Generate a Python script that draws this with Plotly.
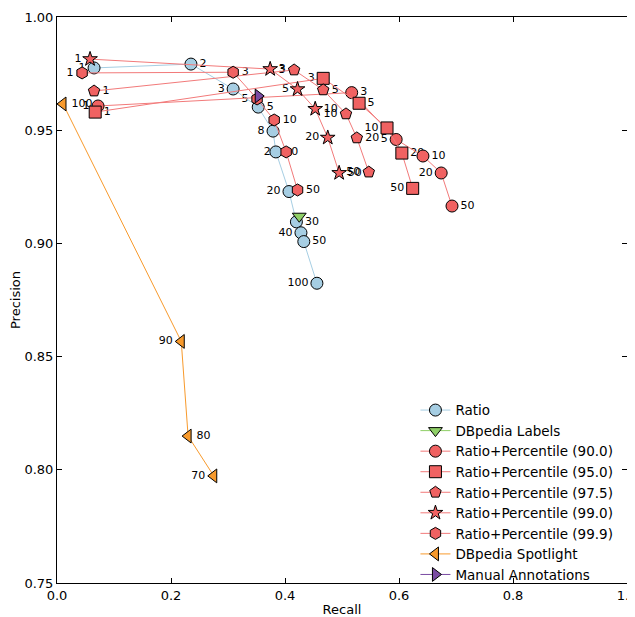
import plotly.graph_objects as go

# ---- data ----
ratio_recall = [0.065, 0.235, 0.309, 0.353, 0.379, 0.384, 0.407, 0.420, 0.428, 0.433, 0.456]
ratio_precision = [0.9775, 0.9792, 0.9682, 0.9602, 0.9496, 0.9404, 0.9229, 0.9095, 0.9047, 0.9008, 0.8824]
ratio_labels = ["1", "2", "3", "5", "8", "10", "20", "30", "40", "50", "100"]

dbl_recall = [0.425]
dbl_precision = [0.912]

pct_labels = ["1", "3", "5", "10", "20", "50"]
p900_recall = [0.072, 0.517, 0.595, 0.642, 0.674, 0.693]
p900_precision = [0.9607, 0.9666, 0.9459, 0.9386, 0.9311, 0.9165]
p950_recall = [0.067, 0.467, 0.530, 0.579, 0.605, 0.624]
p950_precision = [0.9580, 0.9729, 0.9619, 0.9510, 0.9399, 0.9243]
p975_recall = [0.065, 0.416, 0.467, 0.507, 0.526, 0.547]
p975_precision = [0.9673, 0.9766, 0.9678, 0.9572, 0.9466, 0.9315]
p990_recall = [0.058, 0.374, 0.422, 0.453, 0.475, 0.495]
p990_precision = [0.9814, 0.9770, 0.9681, 0.9594, 0.9467, 0.9311]
p999_recall = [0.044, 0.309, 0.351, 0.381, 0.402, 0.422]
p999_precision = [0.9753, 0.9756, 0.9638, 0.9545, 0.9404, 0.9236]

spot_recall = [0.0105, 0.218, 0.230, 0.275]
spot_precision = [0.9616, 0.8567, 0.8149, 0.7973]
spot_labels = ["100", "90", "80", "70"]

manual_recall = [0.353]
manual_precision = [0.9651]

x_ticks = [0.0, 0.2, 0.4, 0.6, 0.8, 1.0]
y_ticks = [0.75, 0.80, 0.85, 0.90, 0.95, 1.00]

# ---- styles ----
BLUE = "#a6cee3"
GREEN = "#8fcf67"
RED = "#f06262"
REDLINE = "#f27a7a"
ORANGE = "#f89a2c"
PURPLE = "#7a4ba3"
FONT = "DejaVu Sans"
MS = 12

series = [
    dict(name="Ratio", x=ratio_recall, y=ratio_precision, labels=ratio_labels, first="left",
         symbol="circle", color=BLUE, line=BLUE, size=MS),
    dict(name="DBpedia Labels", x=dbl_recall, y=dbl_precision, labels=None, first=None,
         symbol="triangle-down", color=GREEN, line=GREEN, size=MS),
    dict(name="Ratio+Percentile (90.0)", x=p900_recall, y=p900_precision, labels=pct_labels, first="left",
         symbol="circle", color=RED, line=REDLINE, size=MS),
    dict(name="Ratio+Percentile (95.0)", x=p950_recall, y=p950_precision, labels=pct_labels, first="right",
         symbol="square", color=RED, line=REDLINE, size=MS),
    dict(name="Ratio+Percentile (97.5)", x=p975_recall, y=p975_precision, labels=pct_labels, first="right",
         symbol="pentagon", color=RED, line=REDLINE, size=MS),
    dict(name="Ratio+Percentile (99.0)", x=p990_recall, y=p990_precision, labels=pct_labels, first="left",
         symbol="star", color=RED, line=REDLINE, size=11),
    dict(name="Ratio+Percentile (99.9)", x=p999_recall, y=p999_precision, labels=pct_labels, first="left",
         symbol="hexagon", color=RED, line=REDLINE, size=MS),
    dict(name="DBpedia Spotlight", x=spot_recall, y=spot_precision, labels=spot_labels, first="right",
         symbol="triangle-left", color=ORANGE, line=ORANGE, size=MS),
    dict(name="Manual Annotations", x=manual_recall, y=manual_precision, labels=None, first=None,
         symbol="triangle-right", color=PURPLE, line=PURPLE, size=MS),
]

fig = go.Figure()

# text labels (drawn first, beneath the markers)
for s in series:
    if s["labels"] is None:
        continue
    sides = ["left", "right"] if s["first"] == "left" else ["right", "left"]
    pos = ["middle " + sides[i % 2] for i in range(len(s["labels"]))]
    fig.add_trace(go.Scatter(
        x=s["x"], y=s["y"], mode="markers+text", text=s["labels"], textposition=pos,
        textfont=dict(family=FONT, size=11, color="black"),
        marker=dict(size=MS, opacity=0), showlegend=False, hoverinfo="skip",
        cliponaxis=False))

# lines + markers
for s in series:
    fig.add_trace(go.Scatter(
        x=s["x"], y=s["y"], mode="lines+markers", name=s["name"],
        line=dict(color=s["line"], width=1),
        marker=dict(symbol=s["symbol"], size=s["size"], color=s["color"],
                    line=dict(color="black", width=1)),
        cliponaxis=False))

axis_common = dict(showline=True, linecolor="black", linewidth=1, mirror="ticks",
                   ticks="inside", ticklen=5, tickcolor="black", tickwidth=1,
                   showgrid=False, zeroline=False, automargin=False,
                   ticklabeloverflow="allow",
                   tickfont=dict(family=FONT, size=13, color="black"))

# page body has an 8px margin, so the figure is sized to fit the window
fig.update_layout(
    width=627, height=609,
    margin=dict(l=49, r=8, t=9, b=34),
    paper_bgcolor="white", plot_bgcolor="white",
    font=dict(family=FONT, size=13, color="black"),
    xaxis=dict(range=[0, 1], tickvals=x_ticks, tickformat=".1f",
               title=dict(text="Recall", font=dict(family=FONT, size=13), standoff=4),
               **axis_common),
    yaxis=dict(range=[0.75, 1.0], tickvals=y_ticks, tickformat=".2f",
               title=dict(text="Precision", font=dict(family=FONT, size=13), standoff=8),
               **axis_common),
    legend=dict(x=0.985, y=-0.012, xanchor="right", yanchor="bottom",
                bgcolor="rgba(255,255,255,0)", borderwidth=0,
                font=dict(family=FONT, size=13.5), tracegroupgap=0, itemwidth=30),
    showlegend=True,
)

fig.write_html("out.html")
